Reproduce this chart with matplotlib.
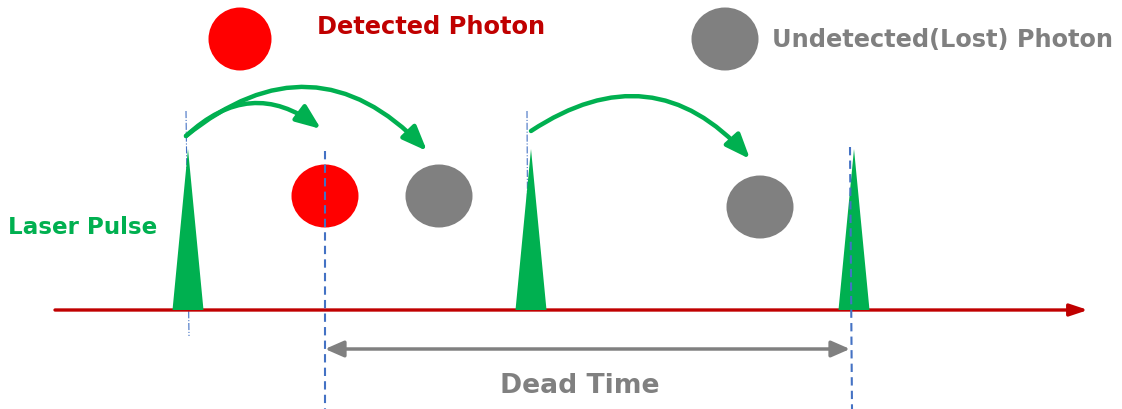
import matplotlib
matplotlib.use("Agg")
import matplotlib.pyplot as plt
from matplotlib.patches import Ellipse, Polygon, FancyArrowPatch

plt.rcParams['font.family'] = ['DejaVu Sans']

# ---- data (pixel-space diagram coordinates) ----
pulse_x = [188, 531, 854]          # laser pulse centre positions
pulse_half_width = 15.5
pulse_top = 150
baseline_y = 311

detected_x = [325]                 # detected photon
detected_y = [197]
lost_x = [439, 760]                # undetected photons
lost_y = [197, 208]

dead_start, dead_end = 325, 850

arrows = [((186, 137), (321, 130), -0.42),
          ((186, 137), (427, 152), -0.46),
          ((531, 132), (750, 160), -0.43)]

RED_DARK = '#C00000'
GREEN = '#00B050'
GRAY = '#808080'
BLUE = '#4472C4'

fig = plt.figure(figsize=(11.22, 4.10), dpi=100)
ax = fig.add_axes([0, 0, 1, 1])
ax.set_xlim(0, 1122)
ax.set_ylim(410, 0)
ax.axis('off')

# time axis
ax.add_patch(FancyArrowPatch((55, baseline_y), (1088, baseline_y), arrowstyle='-|>,head_length=0.9,head_width=0.3',
                             mutation_scale=12, color=RED_DARK, lw=2.4, shrinkA=0, shrinkB=0, zorder=2))

# thin dash-dot lines at first two pulses
ax.plot([186, 189], [112, 337], color=BLUE, lw=0.8, ls='-.', zorder=1)
ax.plot([527, 528], [112, 312], color=BLUE, lw=0.8, ls='-.', zorder=1)

# pulses
for x in pulse_x:
    ax.add_patch(Polygon([(x - pulse_half_width, baseline_y), (x, pulse_top),
                          (x + pulse_half_width, baseline_y)], closed=True,
                         facecolor=GREEN, edgecolor='none', zorder=3))

# dead-time dashed lines
ax.plot([dead_start, dead_start], [152, 410], color=BLUE, lw=1.5, ls=(0, (4, 2.5)), zorder=4)
ax.plot([dead_end, 852], [148, 410], color=BLUE, lw=1.5, ls=(0, (4, 2.5)), zorder=4)

# photons
for x, y in zip(detected_x, detected_y):
    ax.add_patch(Ellipse((x, y), 67, 63, facecolor='#FF0000', edgecolor='none', zorder=3))
for x, y in zip(lost_x, lost_y):
    ax.add_patch(Ellipse((x, y), 67, 63, facecolor=GRAY, edgecolor='none', zorder=3))

# legend markers
ax.add_patch(Ellipse((240, 40), 63, 63, facecolor='#FF0000', edgecolor='none'))
ax.add_patch(Ellipse((725, 40), 67, 63, facecolor=GRAY, edgecolor='none'))
ax.text(317, 27, 'Detected Photon', color=RED_DARK, fontsize=17.4, fontweight='bold', va='center', ha='left')
ax.text(772, 40, 'Undetected(Lost) Photon', color=GRAY, fontsize=17.3, fontweight='bold', va='center', ha='left')
ax.text(8, 228, 'Laser Pulse', color=GREEN, fontsize=16.6, fontweight='bold', va='center', ha='left')
ax.text(580, 386, 'Dead Time', color=GRAY, fontsize=19.2, fontweight='bold', va='center', ha='center')

# dead time double arrow
ax.add_patch(FancyArrowPatch((dead_start, 350), (dead_end, 350), arrowstyle='<|-|>,head_length=0.8,head_width=0.35',
                             mutation_scale=14, color=GRAY, lw=2.5, shrinkA=0, shrinkB=0, zorder=5))

# green curved arrows
for (p0, p1, rad) in arrows:
    ax.add_patch(FancyArrowPatch(p0, p1, connectionstyle=f'arc3,rad={rad}',
                                 arrowstyle='-|>,head_length=1.0,head_width=0.4', mutation_scale=15,
                                 color=GREEN, lw=3.2, shrinkA=0, shrinkB=0, zorder=5))

fig.savefig('out.png', dpi=100)
